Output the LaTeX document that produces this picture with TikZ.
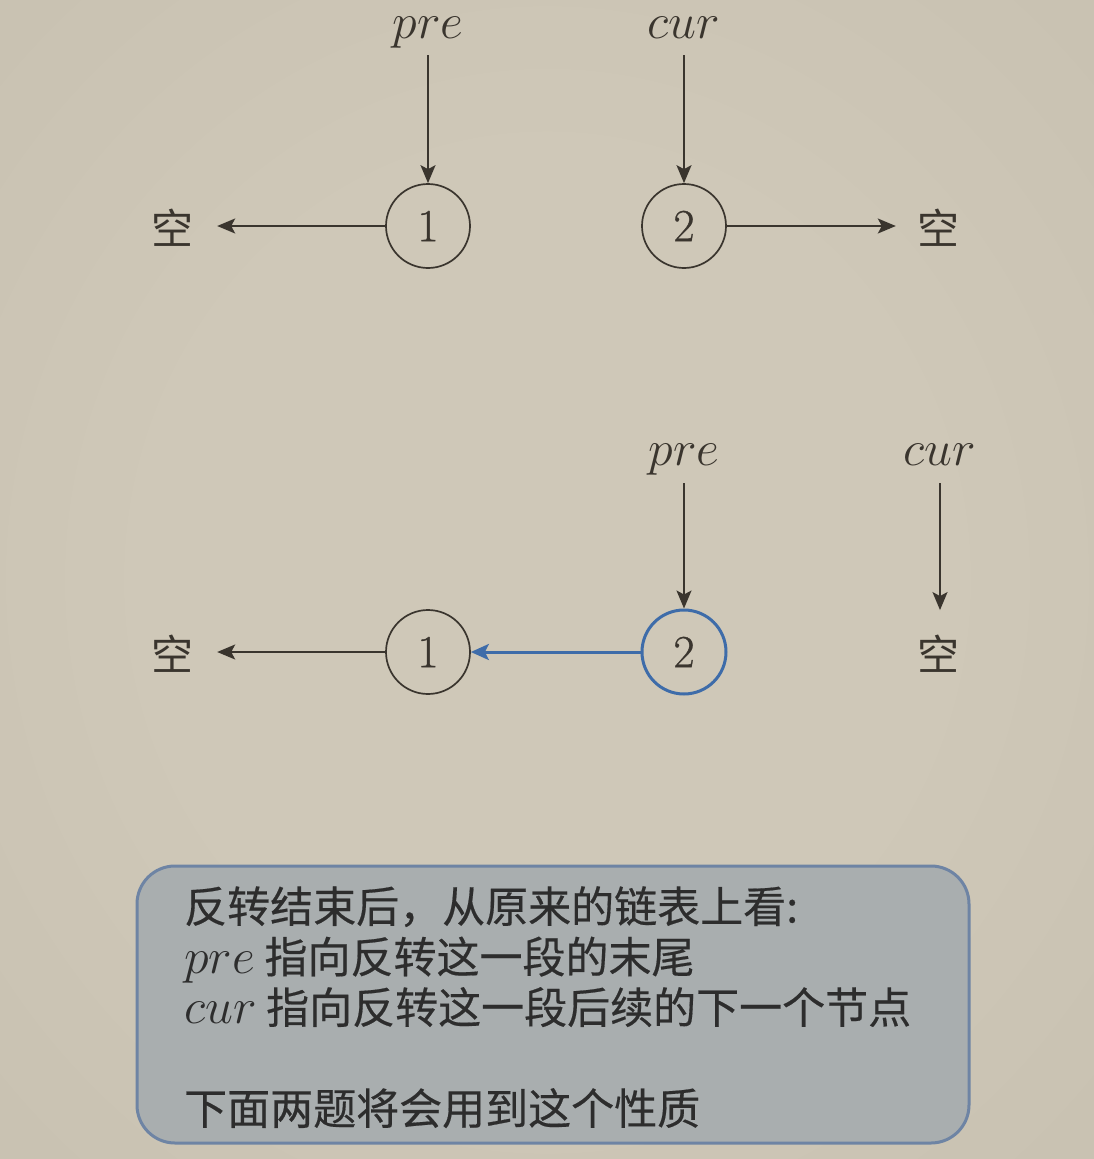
\RequirePackage{fix-cm}
\documentclass[tikz,border=0pt]{standalone}
\usepackage{fontspec}
\newfontfamily\cjk{Noto Sans CJK SC}
\newfontfamily\cjkb[FakeBold=0.4]{Noto Sans CJK SC}
\newfontfamily\digitfont[FakeBold=0.8]{Latin Modern Roman}
\usetikzlibrary{arrows.meta}
\definecolor{ink}{HTML}{3A352E}
\definecolor{bluenode}{HTML}{3E6CA9}
\definecolor{bgin}{HTML}{CFC8B8}
\definecolor{bgmid}{HTML}{C5BEAE}
\definecolor{bgout}{HTML}{B7B1A3}
\definecolor{boxfill}{HTML}{A9AEAF}
\definecolor{boxline}{HTML}{6E84A4}
\definecolor{boxtext}{HTML}{2D2D2D}
\pgfdeclareradialshading{bgshade}{\pgfpoint{0bp}{0bp}}{color(0bp)=(bgin); color(18bp)=(bgin); color(45bp)=(bgmid); color(72bp)=(bgout)}
\newcommand{\mvar}[1]{{\fontsize{50}{50}\selectfont$#1$}}
\begin{document}
\begin{tikzpicture}[x=1pt,y=-1pt,
  every node/.style={text=ink},
  nd/.style={circle,draw=ink,line width=1.7pt,minimum size=84pt,inner sep=0pt,font=\digitfont\fontsize{46}{46}\selectfont},
  nul/.style={inner sep=0pt,font=\cjk\fontsize{42}{42}\selectfont},
  lbl/.style={inner sep=0pt,anchor=base,font=\fontsize{50}{50}\selectfont},
  ar/.style={draw=ink,line width=1.7pt,-{Stealth[length=18pt,width=15pt,inset=4pt]}},
  bar/.style={draw=bluenode,line width=3pt,-{Stealth[length=18pt,width=16pt,inset=4pt]}}
]
\useasboundingbox (0,0) rectangle (1094,1159);
\shade[shading=bgshade] (0,0) rectangle (1094,1159);

% top row
\node[nd] (a1) at (428,226) {1};
\node[nd] (a2) at (684,226) {2};
\node[nul] (an1) at (172,228) {空};
\node[nul] (an2) at (938,228) {空};
\node[lbl] (apre) at (428,38) {$pre$};
\node[lbl] (acur) at (684,38) {$cur$};
\coordinate (apres) at (428,55);
\coordinate (acurs) at (684,55);
\draw[ar] (apres) -- (a1.north);
\draw[ar] (acurs) -- (a2.north);
\draw[ar] (a1.west) -- ([xshift=24pt]an1.east |- a1.west);
\draw[ar] (a2.east) -- ([xshift=-21pt]an2.west |- a2.east);

% bottom row
\node[nd] (b1) at (428,652) {1};
\node[nd,draw=bluenode,line width=3pt] (b2) at (684,652) {2};
\node[nul] (bn1) at (172,654) {空};
\node[nul] (bn2) at (938,654) {空};
\node[lbl] (bpre) at (684,465) {$pre$};
\node[lbl] (bcur) at (940,465) {$cur$};
\coordinate (bpres) at (684,483);
\coordinate (bcurs) at (940,483);
\draw[ar] (bpres) -- (b2.north);
\draw[ar] (bcurs) -- ([yshift=25pt]bcurs |- bn2.north);
\draw[ar] (b1.west) -- ([xshift=24pt]bn1.east |- b1.west);
\draw[bar] (b2.west) -- (b1.east);

% note box
\node[draw=boxline,line width=3pt,fill=boxfill,rounded corners=38pt,minimum width=832pt,minimum height=277pt,inner sep=0pt] (box) at (553,1004.5) {};
\node[anchor=north west,inner sep=0pt,align=left,text=boxtext,font=\cjkb\fontsize{43}{50.5}\selectfont] (txt) at (184,886)
 {反转结束后，从原来的链表上看:\\
  \mvar{pre} 指向反转这一段的末尾\\
  \mvar{cur} 指向反转这一段后续的下一个节点\\[50.5pt]
  下面两题将会用到这个性质};
\end{tikzpicture}
\end{document}
